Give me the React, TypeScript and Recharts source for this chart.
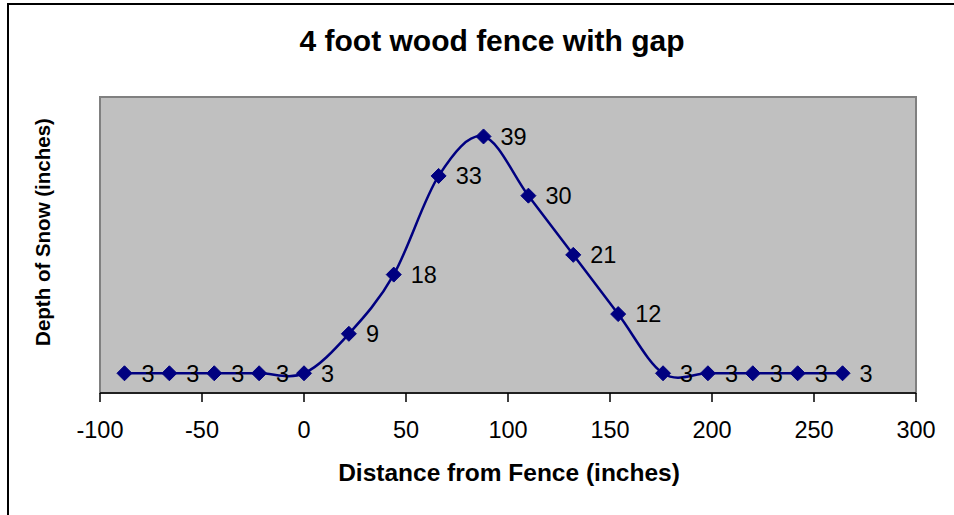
import React from "react";
import {
  LineChart,
  Line,
  XAxis,
  YAxis,
  CartesianGrid,
  ReferenceArea,
  LabelList,
} from "recharts";

const distances = [-88, -66, -44, -22, 0, 22, 44, 66, 88, 110, 132, 154, 176, 198, 220, 242, 264];
const depths = [3, 3, 3, 3, 3, 9, 18, 33, 39, 30, 21, 12, 3, 3, 3, 3, 3];
const xTicks = [-100, -50, 0, 50, 100, 150, 200, 250, 300];

const data = distances.map((d, i) => ({ distance: d, depth: depths[i] }));

const FONT = "Arial, 'Liberation Sans', sans-serif";
const NAVY = "#000080";

// Excel-style smoothed line (uniform Catmull-Rom through every point)
const excelSmooth = (context: any) => {
  let pts: number[][] = [];
  return {
    areaStart() {},
    areaEnd() {},
    lineStart() {
      pts = [];
    },
    point(x: number, y: number) {
      pts.push([+x, +y]);
    },
    lineEnd() {
      if (!pts.length) return;
      context.moveTo(pts[0][0], pts[0][1]);
      for (let i = 0; i < pts.length - 1; i++) {
        const p0 = pts[i - 1] || pts[i];
        const p1 = pts[i];
        const p2 = pts[i + 1];
        const p3 = pts[i + 2] || pts[i + 1];
        context.bezierCurveTo(
          p1[0] + (p2[0] - p0[0]) / 6,
          p1[1] + (p2[1] - p0[1]) / 6,
          p2[0] - (p3[0] - p1[0]) / 6,
          p2[1] - (p3[1] - p1[1]) / 6,
          p2[0],
          p2[1]
        );
      }
    },
  };
};

const Diamond = (props: any) => {
  const { cx, cy } = props;
  if (cx == null || cy == null) return null;
  const r = 7.5;
  return (
    <path
      d={`M${cx},${cy - r}L${cx + r},${cy}L${cx},${cy + r}L${cx - r},${cy}Z`}
      fill={NAVY}
      stroke={NAVY}
    />
  );
};

export default function App() {
  return (
    <div style={{ position: "absolute", left: 0, top: 0, width: 954, height: 515, overflow: "hidden", background: "#fff" }}>
      {/* outer chart border */}
      <div
        style={{
          position: "absolute",
          left: 7,
          top: 3,
          width: 1000,
          height: 600,
          border: "2px solid #000",
        }}
      />

      <div style={{ position: "absolute", left: 0, top: 0 }}>
        <LineChart
          width={954}
          height={515}
          data={data}
          margin={{ top: 97, right: 38, left: 100, bottom: 62 }}
        >
          <CartesianGrid horizontal={false} vertical={false} fill="#C0C0C0" />
          <ReferenceArea
            x1={-100}
            x2={300}
            y1={0}
            y2={45}
            fill="none"
            stroke="#808080"
            strokeWidth={2}
          />
          <XAxis
            dataKey="distance"
            type="number"
            domain={[-100, 300]}
            ticks={xTicks}
            height={60}
            axisLine={{ stroke: "#000", strokeWidth: 1.5 }}
            tickLine={{ stroke: "#000", strokeWidth: 1.5 }}
            tickSize={9}
            tickMargin={19}
            tick={{ fontSize: 23.5, fill: "#000", fontFamily: FONT }}
          />
          <YAxis type="number" domain={[0, 45]} hide />
          <Line
            dataKey="depth"
            type={excelSmooth as any}
            stroke={NAVY}
            strokeWidth={2.5}
            dot={<Diamond />}
            activeDot={false}
            isAnimationActive={false}
          >
            <LabelList
              dataKey="depth"
              position="right"
              offset={17}
              fill="#000"
              fontSize={23.5}
              fontFamily={FONT}
            />
          </Line>
        </LineChart>
      </div>

      {/* title */}
      <div
        style={{
          position: "absolute",
          left: 0,
          width: 984,
          top: 26,
          lineHeight: "30px",
          fontSize: 30,
          fontWeight: "bold",
          fontFamily: FONT,
          textAlign: "center",
          color: "#000",
        }}
      >
        4 foot wood fence with gap
      </div>

      {/* x axis title */}
      <div
        style={{
          position: "absolute",
          left: 0,
          width: 1018,
          top: 461,
          lineHeight: "24px",
          fontSize: 24.5,
          fontWeight: "bold",
          fontFamily: FONT,
          textAlign: "center",
          color: "#000",
        }}
      >
        Distance from Fence (inches)
      </div>

      {/* y axis title */}
      <div
        style={{
          position: "absolute",
          left: 42.5,
          top: 232,
          width: 400,
          lineHeight: "20px",
          fontSize: 20.5,
          fontWeight: "bold",
          fontFamily: FONT,
          textAlign: "center",
          color: "#000",
          transform: "translate(-50%, -50%) rotate(-90deg)",
        }}
      >
        Depth of Snow (inches)
      </div>
    </div>
  );
}
